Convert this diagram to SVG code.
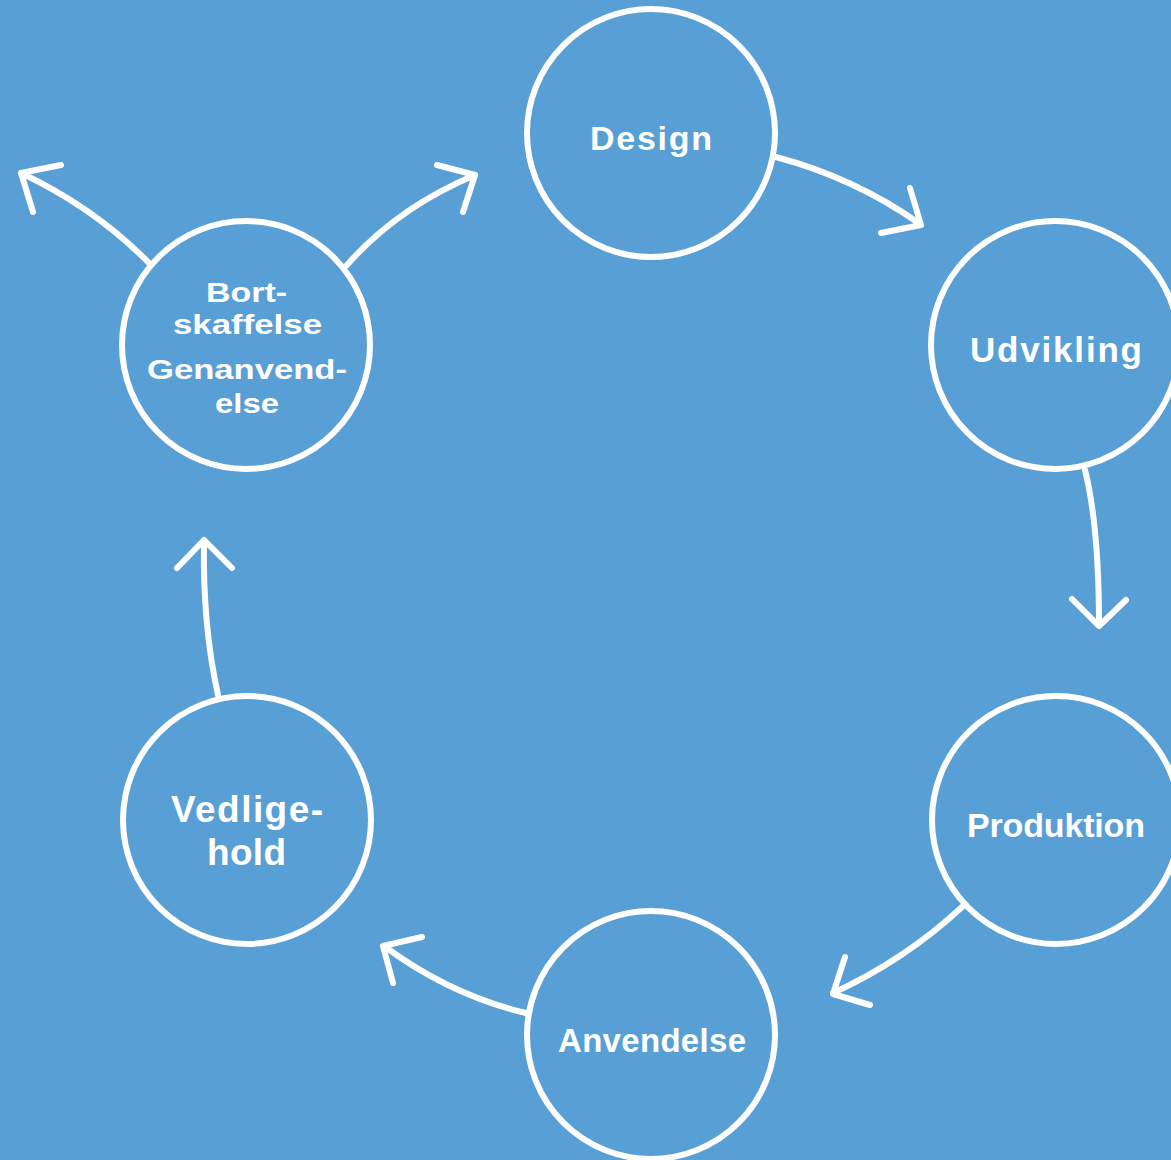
<svg xmlns="http://www.w3.org/2000/svg" width="1171" height="1160" viewBox="0 0 1171 1160">
<style>
.node circle{fill:none;stroke:#fff;stroke-width:6}
.node text{fill:#fff;font-family:"Liberation Sans",Arial,sans-serif;font-weight:bold;text-anchor:middle}
.conn path{fill:none;stroke:#fff;stroke-width:6;stroke-linecap:round;stroke-linejoin:round}
</style>
<rect width="1171" height="1160" fill="#589fd6"/>
<g id="connectors" class="conn">
<path d="M776 157 Q855 178 920 224"/>
<path d="M910 188 L921 225 L881 233"/>
<path d="M1085 470 C1095 510 1099 560 1099 625"/>
<path d="M1072 599 L1099 626 L1126 600"/>
<path d="M962 907 Q905 960 833 993"/>
<path d="M845 957 L833 994 L870 1005"/>
<path d="M526 1013 Q450 995 384 946"/>
<path d="M422 937 L383 946 L393 983"/>
<path d="M218 695 C208 650 203 600 204 542"/>
<path d="M177 568 L204 540 L232 568"/>
<path d="M149 263 Q95 208 21 173"/>
<path d="M61 165 L21 173 L33 212"/>
<path d="M347 265 Q397 208 475 175"/>
<path d="M437 165 L475 175 L463 212"/>
</g>
<g id="design" class="node">
<circle cx="651" cy="133" r="124"/>
<text x="651" y="150" font-size="34" textLength="122" lengthAdjust="spacing">Design</text>
</g>
<g id="udvikling" class="node">
<circle cx="1055" cy="345" r="124"/>
<text x="1056" y="362" font-size="35" textLength="172" lengthAdjust="spacing">Udvikling</text>
</g>
<g id="produktion" class="node">
<circle cx="1056" cy="820" r="124"/>
<text x="1056" y="837" font-size="34" textLength="178" lengthAdjust="spacing">Produktion</text>
</g>
<g id="anvendelse" class="node">
<circle cx="651" cy="1035" r="124"/>
<text x="652" y="1052" font-size="33" textLength="188" lengthAdjust="spacing">Anvendelse</text>
</g>
<g id="vedligehold" class="node">
<circle cx="247" cy="820" r="124"/>
<text x="247" y="822" font-size="37" textLength="152" lengthAdjust="spacing">Vedlige-</text>
<text x="246.5" y="865" font-size="37" textLength="79" lengthAdjust="spacing">hold</text>
</g>
<g id="bortskaffelse" class="node">
<circle cx="246" cy="345" r="124"/>
<text x="246.5" y="302" font-size="28.5" textLength="81" lengthAdjust="spacingAndGlyphs">Bort-</text>
<text x="247.5" y="334" font-size="28.5" textLength="149" lengthAdjust="spacingAndGlyphs">skaffelse</text>
<text x="247" y="379" font-size="28.5" textLength="200" lengthAdjust="spacingAndGlyphs">Genanvend-</text>
<text x="247" y="413" font-size="28.5" textLength="64" lengthAdjust="spacingAndGlyphs">else</text>
</g>
</svg>
